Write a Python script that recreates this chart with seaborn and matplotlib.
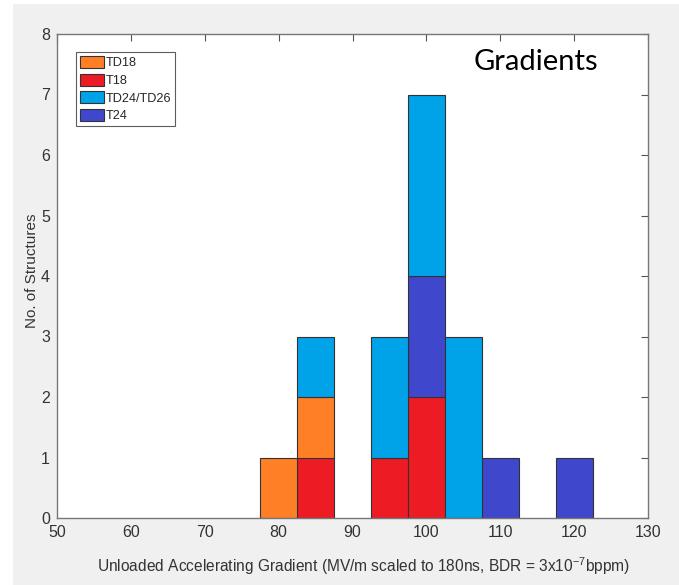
import matplotlib
matplotlib.use("Agg")
import matplotlib.pyplot as plt
from matplotlib.patches import Patch, Rectangle
import pandas as pd
import seaborn as sns

# Gradient of each tested structure (MV/m, scaled to 180 ns and BDR = 3e-7 bppm)
td18_gradients = [80, 85]
t18_gradients = [85, 95, 100, 100]
td24_gradients = [85, 95, 95, 100, 100, 100, 105, 105, 105]
t24_gradients = [100, 100, 110, 120]

structure_names = ["TD18", "T18", "TD24/TD26", "T24"]
structure_colors = ["#FF7F27", "#ED1C24", "#00A2E8", "#3F48CC"]

x_ticks = [50, 60, 70, 80, 90, 100, 110, 120, 130]
y_ticks = [0, 1, 2, 3, 4, 5, 6, 7, 8]

groups = [td18_gradients, t18_gradients, td24_gradients, t24_gradients]
df = pd.DataFrame({
    "gradient": [g for grp in groups for g in grp],
    "structure": [name for name, grp in zip(structure_names, groups) for _ in grp],
})
palette = dict(zip(structure_names, structure_colors))

sns.set_theme(style="white")
plt.rcParams["font.family"] = ["Liberation Sans", "DejaVu Sans"]
plt.rcParams["mathtext.default"] = "regular"

fig = plt.figure(figsize=(6.79, 5.85), dpi=100)
fig.patch.set_facecolor("#F0F0F0")
# white margin along the left and top edges of the window capture
fig.add_artist(Rectangle((0, 0), 13 / 679, 1, transform=fig.transFigure,
                         facecolor="white", edgecolor="none", zorder=-1))
fig.add_artist(Rectangle((0, 1 - 4 / 585), 1, 4 / 585, transform=fig.transFigure,
                         facecolor="white", edgecolor="none", zorder=-1))

ax = fig.add_axes([57 / 679, 1 - 518 / 585, (648 - 57) / 679, (518 - 34) / 585])
ax.set_facecolor("white")

# stacking: last hue level at the bottom
stack_order = ["TD24/TD26", "TD18", "T24", "T18"]
sns.histplot(data=df, x="gradient", hue="structure", hue_order=stack_order,
             palette=palette, multiple="stack", binwidth=5,
             binrange=(77.5, 122.5), alpha=1, edgecolor="#333333",
             linewidth=0.8, legend=False, ax=ax)
# hide empty bins so no outline sits on the baseline
for p in ax.patches:
    if p.get_height() == 0:
        p.set_visible(False)

ax.set_xlim(50, 130)
ax.set_ylim(0, 8)
ax.set_xticks(x_ticks)
ax.set_yticks(y_ticks)
ax.tick_params(axis="both", direction="in", length=5, width=0.8,
               color="#555555", labelcolor="#333333", labelsize=11.5,
               top=True, right=True, pad=5)
for s in ax.spines.values():
    s.set_color("#777777")
    s.set_linewidth(1.0)

ax.set_xlabel("Unloaded Accelerating Gradient (MV/m scaled to 180ns, BDR = 3x10$^{-7}$bppm)",
              fontsize=11.2, color="#333333")
ax.xaxis.set_label_coords(0.519, -0.078)
ax.set_ylabel("No. of Structures", fontsize=11, color="#333333")
ax.yaxis.set_label_coords(-0.031, 0.51)

ax.text(114.8, 7.54, "Gradients", fontsize=21, family=["Lato", "DejaVu Sans"],
        color="black", ha="center", va="center")

handles = [Patch(facecolor=c, edgecolor="#333333", linewidth=0.8) for c in structure_colors]
leg = ax.legend(handles, structure_names, loc="upper left",
                bbox_to_anchor=(19 / 591, (518 - 52) / 484), borderaxespad=0,
                fontsize=9.2, handlelength=1.9, handleheight=1.1, handletextpad=0.15,
                labelspacing=0.33, borderpad=0.3, frameon=True, fancybox=False)
leg.get_frame().set_edgecolor("#333333")
leg.get_frame().set_linewidth(0.8)

fig.savefig("out.png", dpi=100, facecolor=fig.get_facecolor())
